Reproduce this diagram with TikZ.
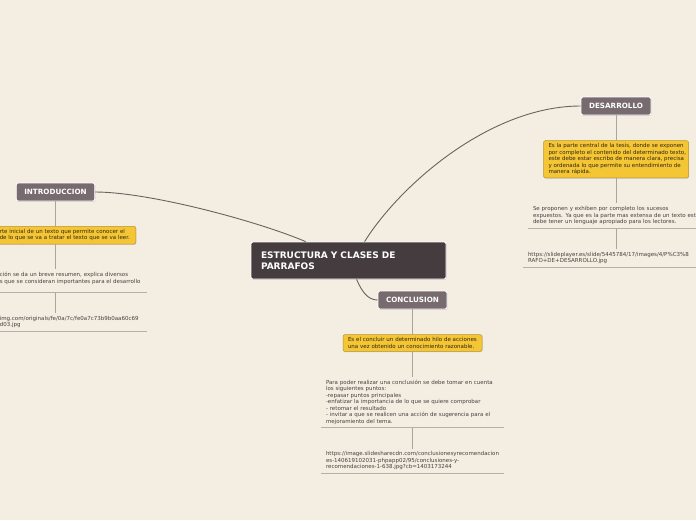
\documentclass[tikz,border=0pt]{standalone}
\usepackage{fontspec}
\setmainfont{DejaVu Sans}
\usepackage{tikz}
\usetikzlibrary{positioning}
\usetikzlibrary{shadows}

\definecolor{paper}{RGB}{243,237,226}
\definecolor{topicgray}{RGB}{119,107,112}
\definecolor{maingray}{RGB}{68,60,62}
\definecolor{noteyel}{RGB}{244,197,52}
\definecolor{notebrd}{RGB}{184,149,48}
\definecolor{notetxt}{RGB}{50,40,20}
\definecolor{leaftxt}{RGB}{70,66,62}
\definecolor{branchcol}{RGB}{105,99,96}
\definecolor{stemcol}{RGB}{170,164,158}
\definecolor{rulecol}{RGB}{180,175,168}

\newcommand{\smalltxt}{\fontsize{5.5}{6.5}\selectfont}
\newcommand{\topictxt}{\fontsize{7.2}{8}\selectfont\bfseries}

\tikzset{
	topic/.style={draw=white, line width=0.8pt, fill=topicgray, rounded corners=2pt,
		text=white, font=\topictxt, inner xsep=8pt, minimum height=18pt,
		drop shadow={shadow xshift=0.6pt, shadow yshift=-0.8pt, opacity=0.3}},
	root/.style={topic, fill=maingray, font=\fontsize{9}{11}\selectfont\bfseries,
		align=left, text width=175pt, inner xsep=10pt, minimum height=37pt},
	note/.style={draw=notebrd, line width=0.5pt, fill=noteyel, rounded corners=2pt,
		text=notetxt, font=\smalltxt, align=left, inner xsep=5pt, inner ysep=3pt,
		drop shadow={shadow xshift=0.6pt, shadow yshift=-0.8pt, opacity=0.25}},
	leaf/.style={text=leaftxt, font=\smalltxt, align=left, inner xsep=5pt, inner ysep=3pt},
	branch/.style={draw=branchcol, line width=0.9pt},
	stem/.style={draw=stemcol, line width=0.7pt},
	rule/.style={draw=rulecol, line width=0.7pt},
	node distance=25pt
}

\begin{document}
\begin{tikzpicture}[x=1pt, y=-1pt]
	\useasboundingbox (0,0) rectangle (696,520);
	\clip (0,0) rectangle (696,520);
	\fill[paper] (0,0) rectangle (696,520);

	\node [root] (center) at (348.5,260.5) {ESTRUCTURA Y CLASES DE\\PARRAFOS};
	\node [topic] (intro) at (55.5,192) {INTRODUCCION};
	\node [topic] (desa) at (616,106) {DESARROLLO};
	\node [topic] (concl) at (412.5,300) {CONCLUSION};

	% introduccion
	\node [note, anchor=north east, text width=131pt] (introdef) at (136,226)
		{\mbox{rte inicial de un texto que permite conocer el}\\\mbox{de lo que se va a tratar el texto que se va leer.}};
	\node [leaf, anchor=north east, text width=142pt] (introtxt) at (147,269)
		{ción se da un breve resumen, explica diversos\\s que se consideran importantes para el desarrollo\\\mbox{}};
	\node [leaf, anchor=north east, text width=142pt] (introurl) at (147,313)
		{img.com/originals/fe/0a/7c/fe0a7c73b9b0aa60c69\\d03.jpg};

	% desarrollo
	\node [note, text width=135pt, below=of desa] (desadef)
		{\mbox{Es la parte central de la tesis, donde se exponen}\\\mbox{por completo el contenido del determinado texto,}\\\mbox{este debe estar escribo de manera clara, precisa}\\y ordenada lo que permite su entendimiento de\\manera rápida.};
	\node [leaf, text width=166pt, below=of desadef] (desatxt)
		{Se proponen y exhiben por completo los sucesos\\\mbox{expuestos. Ya que es la parte mas extensa de un texto est}\\debe tener un lenguaje apropiado para los lectores.};
	\node [leaf, text width=176pt, below=21pt of desatxt] (desaurl)
		{\mbox{https://slideplayer.es/slide/5445784/17/images/4/P\%C3\%8}\\RAFO+DE+DESARROLLO.jpg};

	% conclusion
	\node [note, text width=129pt, below=of concl] (concldef)
		{Es el concluir un determinado hilo de acciones\\una vez obtenido un conocimiento razonable.};
	\node [leaf, text width=173pt, below=of concldef] (concltxt)
		{Para poder realizar una conclusión se debe tomar en cuenta\\los siguientes puntos:\\-repasar puntos principales\\-enfatizar la importancia de lo que se quiere comprobar\\- retomar el resultado\\- invitar a que se realicen una acción de sugerencia para el\\mejoramiento del tema.};
	\node [leaf, text width=173pt, below=21pt of concltxt] (conclurl)
		{https://image.slidesharecdn.com/conclusionesyrecomendacion\\es-140619102031-phpapp02/95/conclusiones-y-\\recomendaciones-1-638.jpg?cb=1403173244};

	% ramas
	\draw [branch] ([xshift=55pt]center.north west) .. controls (260,222) and (150,192) .. (intro.east);
	\draw [branch] ([xshift=114pt]center.north west) .. controls (400,185) and (490,106) .. (desa.west);
	\draw [branch] ([xshift=106pt]center.south west) .. controls (362,292) and (368,300) .. (concl.west);

	\draw [stem] (intro.south) -- (intro.south |- introdef.north);
	\draw [stem] (intro.south |- introdef.south) -- (intro.south |- introtxt.north);
	\draw [stem] (intro.south |- introtxt.south) -- (intro.south |- introurl.north);
	\draw [stem] (desa) -- (desadef) (desadef) -- (desatxt) (desatxt) -- (desaurl);
	\draw [stem] (concl) -- (concldef) (concldef) -- (concltxt) (concltxt) -- (conclurl);

	\foreach \n in {introtxt,introurl,desatxt,desaurl,concltxt,conclurl}
		\draw [rule] (\n.south west) -- (\n.south east);
\end{tikzpicture}
\end{document}
